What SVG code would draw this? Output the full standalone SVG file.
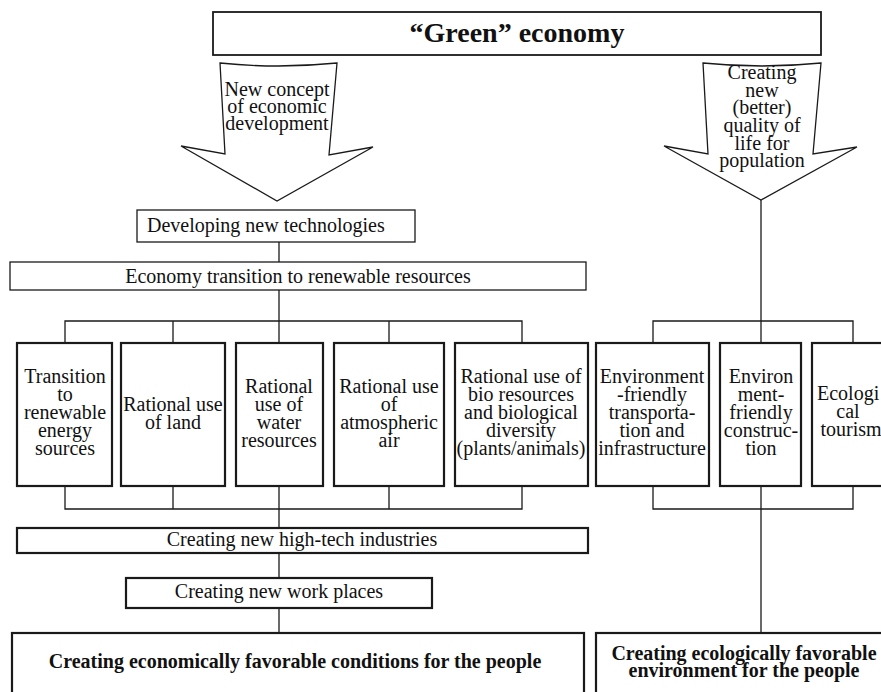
<svg xmlns="http://www.w3.org/2000/svg" width="881" height="692" viewBox="0 0 881 692">
<style>
.box{fill:#fff;stroke:#1a1a1a;stroke-width:2.2}
.thin{stroke-width:1.3}
.mid{stroke-width:1.8}
.t{font-family:"Liberation Serif","Times New Roman",serif;font-size:20px;fill:#111;text-anchor:middle}
.b{font-weight:bold}
.conn{fill:none;stroke:#1a1a1a;stroke-width:1.3}
</style>
<rect width="881" height="692" fill="#fff"/>
<g id="connectors" class="conn">
<path d="M761,200 V343"/>
<path d="M279,242 V262"/>
<path d="M279,290 V343"/>
<path d="M65,343 V321 H522 V343 M173,321 V343 M389,321 V343"/>
<path d="M653,343 V321 H853 V343"/>
<path d="M65,486 V509 H522 V486 M173,486 V509 M389,486 V509 M279,486 V528"/>
<path d="M279,553 V578"/>
<path d="M279,608 V633"/>
<path d="M653,486 V509 H853 V486 M761,486 V633"/>
</g>
<g id="title">
<rect class="box mid" x="213" y="12" width="608" height="43"/>
<text class="t b" x="517" y="42" style="font-size:28px">“Green” economy</text>
</g>
<g id="arrow-left">
<path class="box thin" d="M220,63 Q278,69 337,63 L329,155 L373,147 L277,201 L181,146 L225,154 Z"/>
<text class="t" x="277" y="96">New concept</text>
<text class="t" x="277" y="113">of economic</text>
<text class="t" x="277" y="130">development</text>
</g>
<g id="arrow-right">
<path class="box thin" d="M703,63 Q762,69 821,63 L813,154 L857,147 L761,200 L664,146 L708,154 Z"/>
<text class="t" x="762" y="79">Creating</text>
<text class="t" x="762" y="97">new</text>
<text class="t" x="762" y="114">(better)</text>
<text class="t" x="762" y="132">quality of</text>
<text class="t" x="762" y="150">life for</text>
<text class="t" x="762" y="167">population</text>
</g>
<g id="developing">
<rect class="box thin" x="137" y="210" width="278" height="32"/>
<text class="t" x="147" y="232" style="text-anchor:start">Developing new technologies</text>
</g>
<g id="economy">
<rect class="box thin" x="10" y="262" width="576" height="28"/>
<text class="t" x="298" y="283">Economy transition to renewable resources</text>
</g>
<g id="n1">
<rect class="box" x="17" y="343" width="95" height="143"/>
<text class="t" x="65" y="383">Transition</text>
<text class="t" x="65" y="401">to</text>
<text class="t" x="65" y="419">renewable</text>
<text class="t" x="65" y="437">energy</text>
<text class="t" x="65" y="455">sources</text>
</g>
<g id="n2">
<rect class="box" x="121" y="343" width="104" height="143"/>
<text class="t" x="173" y="411">Rational use</text>
<text class="t" x="173" y="429">of land</text>
</g>
<g id="n3">
<rect class="box" x="236" y="343" width="87" height="143"/>
<text class="t" x="279" y="393">Rational</text>
<text class="t" x="279" y="411">use of</text>
<text class="t" x="279" y="429">water</text>
<text class="t" x="279" y="447">resources</text>
</g>
<g id="n4">
<rect class="box" x="334" y="343" width="110" height="143"/>
<text class="t" x="389" y="393">Rational use</text>
<text class="t" x="389" y="411">of</text>
<text class="t" x="389" y="429">atmospheric</text>
<text class="t" x="389" y="447">air</text>
</g>
<g id="n5">
<rect class="box" x="455" y="343" width="133" height="143"/>
<text class="t" x="521" y="383">Rational use of</text>
<text class="t" x="521" y="401">bio resources</text>
<text class="t" x="521" y="419">and biological</text>
<text class="t" x="521" y="437">diversity</text>
<text class="t" x="521" y="455">(plants/animals)</text>
</g>
<g id="n6">
<rect class="box" x="596" y="343" width="113" height="143"/>
<text class="t" x="652" y="383">Environment</text>
<text class="t" x="652" y="401">-friendly</text>
<text class="t" x="652" y="419">transporta-</text>
<text class="t" x="652" y="437">tion and</text>
<text class="t" x="652" y="455">infrastructure</text>
</g>
<g id="n7">
<rect class="box" x="720" y="343" width="81" height="143"/>
<text class="t" x="761" y="383">Environ</text>
<text class="t" x="761" y="401">ment-</text>
<text class="t" x="761" y="419">friendly</text>
<text class="t" x="761" y="437">construc-</text>
<text class="t" x="761" y="455">tion</text>
</g>
<g id="n8">
<rect class="box" x="812" y="343" width="90" height="143"/>
<text class="t" x="817" y="400" style="text-anchor:start">Ecologi</text>
<text class="t" x="848" y="418">cal</text>
<text class="t" x="851" y="436">tourism</text>
</g>
<g id="hightech">
<rect class="box" x="17" y="528" width="571" height="25"/>
<text class="t" x="302" y="546">Creating new high-tech industries</text>
</g>
<g id="workplaces">
<rect class="box" x="126" y="578" width="306" height="30"/>
<text class="t" x="279" y="598">Creating new work places</text>
</g>
<g id="result-left">
<rect class="box" x="12" y="633" width="572" height="70"/>
<text class="t b" x="295" y="668">Creating economically favorable conditions for the people</text>
</g>
<g id="result-right">
<rect class="box" x="596" y="633" width="300" height="70"/>
<text class="t b" x="744" y="660">Creating ecologically favorable</text>
<text class="t b" x="744" y="677">environment for the people</text>
</g>
</svg>
